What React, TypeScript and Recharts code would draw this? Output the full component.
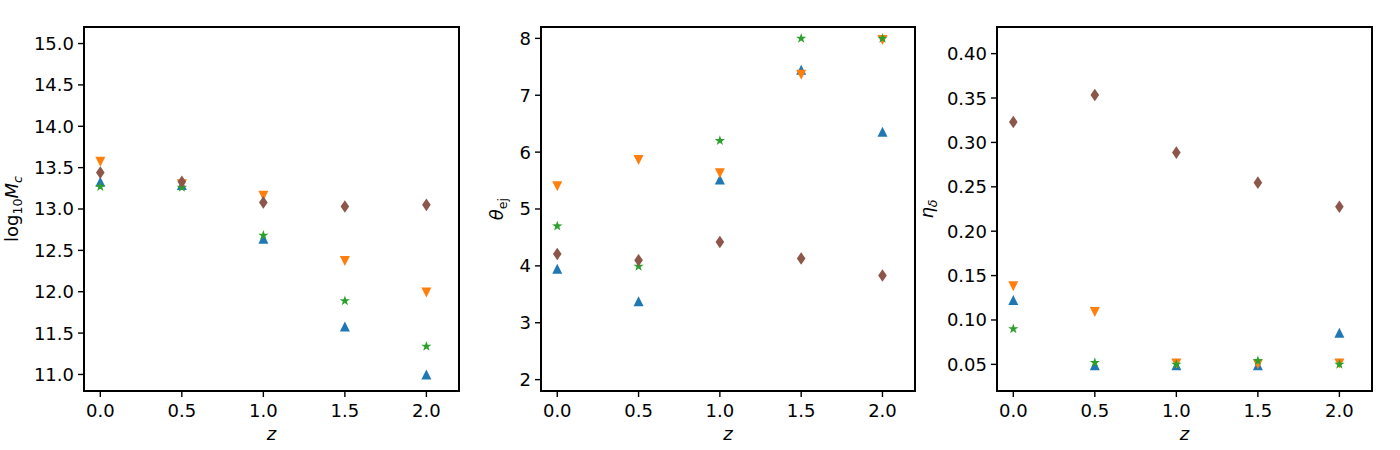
import React from 'react';
import { ScatterChart, Scatter, XAxis, YAxis, ReferenceArea } from 'recharts';

// ---------- data ----------
const Z_VALUES = [0, 0.5, 1, 1.5, 2];
const X_TICKS = [0, 0.5, 1, 1.5, 2];

// log10 Mc
const MC_BLUE = [13.33, 13.29, 12.64, 11.58, 11.0];
const MC_ORANGE = [13.57, 13.3, 13.16, 12.37, 11.99];
const MC_GREEN = [13.27, 13.26, 12.68, 11.89, 11.34];
const MC_BROWN = [13.44, 13.33, 13.08, 13.03, 13.05];
const MC_TICKS = [11, 11.5, 12, 12.5, 13, 13.5, 14, 14.5, 15];

// theta_ej
const TH_BLUE = [3.95, 3.38, 5.52, 7.45, 6.36];
const TH_ORANGE = [5.4, 5.86, 5.63, 7.36, 7.97];
const TH_GREEN = [4.7, 3.99, 6.2, 8.0, 8.0];
const TH_BROWN = [4.21, 4.1, 4.42, 4.13, 3.83];
const TH_TICKS = [2, 3, 4, 5, 6, 7, 8];

// eta_delta
const ETA_BLUE = [0.1225, 0.049, 0.049, 0.049, 0.0857];
const ETA_ORANGE = [0.138, 0.109, 0.051, 0.05, 0.051];
const ETA_GREEN = [0.09, 0.052, 0.05, 0.054, 0.05];
const ETA_BROWN = [0.323, 0.3534, 0.2885, 0.2547, 0.2276];
const ETA_TICKS = [0.05, 0.1, 0.15, 0.2, 0.25, 0.3, 0.35, 0.4];

// ---------- styles ----------
const C_BLUE = '#1f77b4';
const C_ORANGE = '#ff7f0e';
const C_GREEN = '#2ca02c';
const C_BROWN = '#8c564b';
const FONT = "'DejaVu Sans', sans-serif";
const FS = 18;

const toPoints = (vals: number[]) => Z_VALUES.map((z, i) => ({ z, v: vals[i] }));

const TriUp = (p: any) => {
  const { cx, cy } = p;
  return <polygon points={`${cx},${cy - 5} ${cx - 5},${cy + 5} ${cx + 5},${cy + 5}`} fill={C_BLUE} />;
};
const TriDown = (p: any) => {
  const { cx, cy } = p;
  return <polygon points={`${cx},${cy + 5} ${cx - 5},${cy - 5} ${cx + 5},${cy - 5}`} fill={C_ORANGE} />;
};
const Diamond = (p: any) => {
  const { cx, cy } = p;
  return <polygon points={`${cx},${cy - 6.3} ${cx + 4.3},${cy} ${cx},${cy + 6.3} ${cx - 4.3},${cy}`} fill={C_BROWN} />;
};
const Star = (p: any) => {
  const { cx, cy } = p;
  const R = 5.4;
  const r = 2.1;
  const pts: string[] = [];
  for (let k = 0; k < 10; k++) {
    const a = (-90 + k * 36) * (Math.PI / 180);
    const rad = k % 2 === 0 ? R : r;
    pts.push(`${cx + rad * Math.cos(a)},${cy + rad * Math.sin(a)}`);
  }
  return <polygon points={pts.join(' ')} fill={C_GREEN} />;
};

type PanelProps = {
  left: number;
  width: number;
  yAxisWidth: number;
  marginRight: number;
  yDomain: [number, number];
  yTicks: number[];
  yFmt: (v: number) => string;
  blue: number[];
  orange: number[];
  green: number[];
  brown: number[];
  yLabel: React.ReactElement;
};

const PLOT_TOP = 27;
const PLOT_BOTTOM = 391;
const HEIGHT = 450;

const makeXTick = () => (p: any) => {
  const { x, y, payload } = p;
  return (
    <text x={x} y={y} dy="0.71em" textAnchor="middle" fontFamily={FONT} fontSize={FS} fill="#000">
      {Number(payload.value).toFixed(1)}
    </text>
  );
};

const makeYTick = (fmt: (v: number) => string) => (p: any) => {
  const { x, y, payload } = p;
  return (
    <text x={x} y={y} dy="0.36em" textAnchor="end" fontFamily={FONT} fontSize={FS} fill="#000">
      {fmt(Number(payload.value))}
    </text>
  );
};

function Panel(props: PanelProps) {
  const { left, width, yAxisWidth, marginRight, yDomain, yTicks, yFmt, blue, orange, green, brown, yLabel } = props;
  const plotW = width - yAxisWidth - marginRight;
  const cxPlot = yAxisWidth + plotW / 2;
  const XLabel = () => (
    <text x={cxPlot} y={440} textAnchor="middle" fontFamily={FONT} fontSize={FS} fontStyle="italic" fill="#000">
      z
    </text>
  );
  const YLabel = () => yLabel;
  return (
    <div style={{ position: 'absolute', left, top: 0, width, height: HEIGHT }}>
      <ScatterChart
        width={width}
        height={HEIGHT}
        margin={{ top: PLOT_TOP, right: marginRight, bottom: 0, left: 0 }}
      >
        <XAxis
          type="number"
          dataKey="z"
          domain={[-0.1, 2.2]}
          allowDataOverflow
          ticks={X_TICKS}
          interval={0}
          height={HEIGHT - PLOT_BOTTOM}
          axisLine={false}
          tickLine={{ stroke: '#000', strokeWidth: 1.4 }}
          tickSize={6}
          tickMargin={7}
          tick={makeXTick()}
          label={<XLabel />}
        />
        <YAxis
          type="number"
          dataKey="v"
          domain={yDomain}
          allowDataOverflow
          ticks={yTicks}
          interval={0}
          width={yAxisWidth}
          axisLine={false}
          tickLine={{ stroke: '#000', strokeWidth: 1.4 }}
          tickSize={6}
          tickMargin={4}
          tick={makeYTick(yFmt)}
          label={<YLabel />}
        />
        <ReferenceArea
          x1={-0.1}
          x2={2.2}
          y1={yDomain[0]}
          y2={yDomain[1]}
          fill="none"
          fillOpacity={0}
          stroke="#000"
          strokeWidth={2}
          strokeOpacity={1}
        />
        <Scatter data={toPoints(blue)} shape={TriUp} isAnimationActive={false} />
        <Scatter data={toPoints(orange)} shape={TriDown} isAnimationActive={false} />
        <Scatter data={toPoints(green)} shape={Star} isAnimationActive={false} />
        <Scatter data={toPoints(brown)} shape={Diamond} isAnimationActive={false} />
      </ScatterChart>
    </div>
  );
}

const yMid = (PLOT_TOP + PLOT_BOTTOM) / 2;

const McLabel = (
  <text
    x={18}
    y={yMid}
    transform={`rotate(-90, 18, ${yMid})`}
    textAnchor="middle"
    fontFamily={FONT}
    fontSize={FS}
    fill="#000"
  >
    <tspan>log</tspan>
    <tspan fontSize={12.6} dy={4}>10</tspan>
    <tspan fontStyle="italic" dy={-4}>M</tspan>
    <tspan fontStyle="italic" fontSize={12.6} dy={4}>c</tspan>
  </text>
);

const ThetaLabel = (
  <text
    x={33}
    y={yMid}
    transform={`rotate(-90, 33, ${yMid})`}
    textAnchor="middle"
    fontFamily={FONT}
    fontSize={FS}
    fill="#000"
  >
    <tspan fontStyle="italic">θ</tspan>
    <tspan fontSize={12.6} dy={4}>ej</tspan>
  </text>
);

const EtaLabel = (
  <text
    x={33}
    y={yMid}
    transform={`rotate(-90, 33, ${yMid})`}
    textAnchor="middle"
    fontFamily={FONT}
    fontSize={FS}
    fill="#000"
  >
    <tspan fontStyle="italic">η</tspan>
    <tspan fontStyle="italic" fontSize={12.6} dy={4}>δ</tspan>
  </text>
);

export default function App() {
  return (
    <div style={{ position: 'absolute', left: 0, top: 0, width: 1400, height: 450, background: '#fff', overflow: 'hidden' }}>
      <Panel
        left={0}
        width={470}
        yAxisWidth={84}
        marginRight={11}
        yDomain={[10.8, 15.2]}
        yTicks={MC_TICKS}
        yFmt={(v) => v.toFixed(1)}
        blue={MC_BLUE}
        orange={MC_ORANGE}
        green={MC_GREEN}
        brown={MC_BROWN}
        yLabel={McLabel}
      />
      <Panel
        left={470}
        width={450}
        yAxisWidth={71}
        marginRight={5}
        yDomain={[1.8, 8.2]}
        yTicks={TH_TICKS}
        yFmt={(v) => String(v)}
        blue={TH_BLUE}
        orange={TH_ORANGE}
        green={TH_GREEN}
        brown={TH_BROWN}
        yLabel={ThetaLabel}
      />
      <Panel
        left={900}
        width={500}
        yAxisWidth={97}
        marginRight={28}
        yDomain={[0.02, 0.43]}
        yTicks={ETA_TICKS}
        yFmt={(v) => v.toFixed(2)}
        blue={ETA_BLUE}
        orange={ETA_ORANGE}
        green={ETA_GREEN}
        brown={ETA_BROWN}
        yLabel={EtaLabel}
      />
    </div>
  );
}
